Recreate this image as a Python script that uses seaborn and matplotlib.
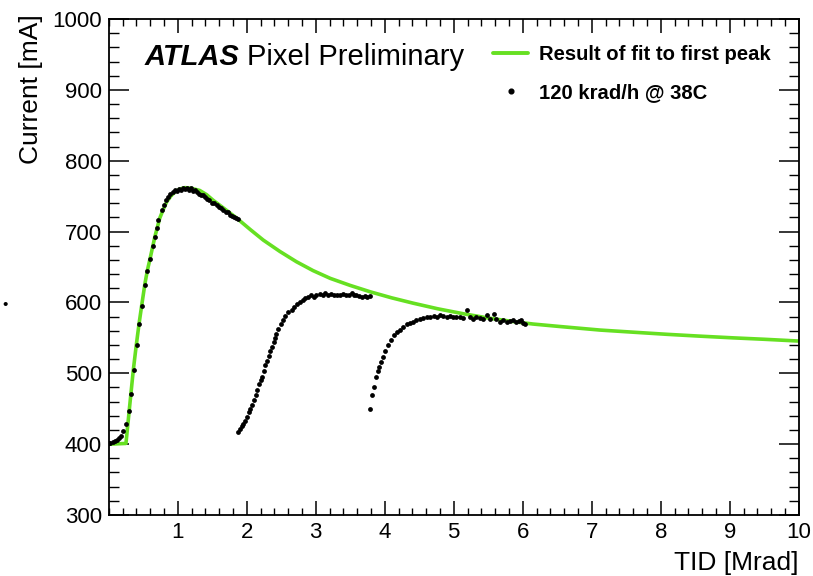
import numpy as np
import pandas as pd
import matplotlib
matplotlib.use("Agg")
import matplotlib.pyplot as plt
from matplotlib.lines import Line2D
from matplotlib.ticker import MultipleLocator, FixedLocator
import seaborn as sns

# ---- data ----
fit_x = [0.02, 0.25, 0.30, 0.357, 0.40, 0.44, 0.48, 0.526, 0.56, 0.60, 0.67, 0.74, 0.79,
         0.84, 0.90, 0.96, 1.03, 1.106, 1.20, 1.32, 1.42, 1.516, 1.68, 1.855, 2.05, 2.24,
         2.48, 2.72, 2.96, 3.21, 3.50, 3.79, 4.10, 4.41, 4.77, 5.14, 5.50, 5.86, 6.15,
         6.54, 7.12, 7.60, 8.09, 8.55, 9.05, 9.50, 10.0]
fit_y = [400, 401, 450, 505, 540, 570, 597, 627, 645, 662, 693, 719, 731,
         742, 750, 756, 760, 762, 761, 758, 752, 744, 732, 719, 703, 688,
         672, 657.5, 645, 634, 624, 615, 606.5, 599, 591, 584, 578, 573, 569.5,
         566, 561, 558, 555, 552.5, 550, 548, 545.5]

run1_x = [0.00, 0.02, 0.06, 0.09, 0.12, 0.15, 0.18, 0.21, 0.25, 0.30, 0.33, 0.37, 0.41,
          0.44, 0.48, 0.53, 0.56, 0.60, 0.64, 0.67, 0.70, 0.72, 0.77, 0.80, 0.83, 0.86,
          0.89, 0.93, 0.96, 0.99, 1.02, 1.05, 1.08, 1.11, 1.13, 1.16, 1.19, 1.22, 1.25,
          1.28, 1.31, 1.34, 1.37, 1.40, 1.43, 1.46, 1.50, 1.53, 1.57, 1.60, 1.63, 1.66,
          1.70, 1.73, 1.76, 1.79, 1.82, 1.85, 1.88]
run1_y = [401, 402, 403, 404, 406, 408, 412, 418, 429, 447, 471, 505, 540,
          570, 595, 625, 645, 661, 680, 693, 705, 716, 730, 737, 744, 749,
          753, 756, 758, 757, 760, 759, 761, 760, 762, 759, 761, 757, 758,
          756, 753, 752, 751, 749, 746, 745, 741, 740, 737, 734, 733, 730,
          728, 727, 724, 722, 721, 719, 718]

run2_x = [1.88, 1.90, 1.93, 1.95, 1.98, 2.00, 2.03, 2.05, 2.07, 2.10, 2.13, 2.15, 2.18,
          2.20, 2.22, 2.25, 2.27, 2.29, 2.32, 2.34, 2.36, 2.39, 2.41, 2.43, 2.46, 2.49,
          2.53, 2.56, 2.60, 2.65, 2.69, 2.73, 2.77, 2.81, 2.85, 2.89, 2.93, 2.97, 3.01,
          3.06, 3.10, 3.14, 3.18, 3.22, 3.27, 3.31, 3.35, 3.39, 3.44, 3.48, 3.52, 3.55,
          3.59, 3.63, 3.67, 3.71, 3.75, 3.79]
run2_y = [417, 421, 425, 429, 432, 438, 445, 450, 455, 463, 470, 477, 485,
          490, 495, 503, 511, 518, 524, 531, 537, 544, 550, 556, 562, 569,
          575, 581, 586, 590, 594, 598, 600, 603, 606, 607, 610, 608, 611,
          612, 610, 613, 611, 612, 610, 611, 610, 612, 610, 611, 613, 611,
          610, 609, 608, 609, 607, 609]

run3_x = [3.79, 3.81, 3.845, 3.88, 3.90, 3.92, 3.95, 3.98, 4.01, 4.05, 4.09, 4.14,
          4.18, 4.22, 4.27, 4.32, 4.36, 4.41, 4.46, 4.51, 4.56, 4.61, 4.66, 4.71,
          4.76, 4.80, 4.85, 4.90, 4.94, 4.99, 5.04, 5.09, 5.14, 5.19, 5.23, 5.28,
          5.33, 5.38, 5.43, 5.48, 5.53, 5.58, 5.62, 5.67, 5.72, 5.77, 5.81, 5.86,
          5.90, 5.94, 5.98, 6.01, 6.03]
run3_y = [449, 469, 481, 495, 503, 509, 516, 523, 532, 540, 547, 554,
          558, 561, 565, 569, 571, 573, 575, 577, 578, 580, 579, 581,
          580, 582, 581, 580, 581, 580, 579, 580, 578, 590, 579, 577,
          579, 578, 577, 582, 576, 584, 576, 573, 575, 572, 574, 575,
          572, 574, 575, 571, 569]

x_ticks = [1, 2, 3, 4, 5, 6, 7, 8, 9, 10]
y_ticks = [300, 400, 500, 600, 700, 800, 900, 1000]

# ---- styling ----
sns.set_theme(style="ticks")
plt.rcParams["font.family"] = ["Liberation Sans", "DejaVu Sans"]
plt.rcParams["text.color"] = "black"
plt.rcParams["axes.labelcolor"] = "black"
plt.rcParams["xtick.color"] = "black"
plt.rcParams["ytick.color"] = "black"
GREEN = "#66e022"

W, H = 813, 576
fig = plt.figure(figsize=(W / 100, H / 100), dpi=100)
fig.patch.set_facecolor("white")
L, R, T, B = 108.7, 798.7, 19, 515
ax = fig.add_axes([L / W, (H - B) / H, (R - L) / W, (B - T) / H])
ax.set_facecolor("white")

fit_df = pd.DataFrame({"x": fit_x, "y": fit_y})
data_df = pd.concat([
    pd.DataFrame({"x": run1_x, "y": run1_y, "run": "1"}),
    pd.DataFrame({"x": run2_x, "y": run2_y, "run": "2"}),
    pd.DataFrame({"x": run3_x, "y": run3_y, "run": "3"}),
])

sns.lineplot(data=fit_df, x="x", y="y", ax=ax, color=GREEN, lw=2.6,
             sort=False, estimator=None, zorder=2, legend=False)
sns.scatterplot(data=data_df, x="x", y="y", ax=ax, color="black", s=12,
                linewidth=0, zorder=3, legend=False)

ax.set_xlim(0, 10)
ax.set_ylim(300, 1000)
ax.xaxis.set_major_locator(FixedLocator(x_ticks))
ax.xaxis.set_minor_locator(MultipleLocator(0.2))
ax.yaxis.set_major_locator(FixedLocator(y_ticks))
ax.yaxis.set_minor_locator(MultipleLocator(20))

for s in ax.spines.values():
    s.set_visible(True)
    s.set_linewidth(1.3)
    s.set_color("black")

ax.tick_params(axis="x", which="major", direction="in", length=10, width=1.1,
               top=True, bottom=True, labelsize=16, pad=5, colors="black")
ax.tick_params(axis="x", which="minor", direction="in", length=5, width=1.0,
               top=True, bottom=True, colors="black")
ax.tick_params(axis="y", which="major", direction="in", length=14.5, width=1.1,
               left=True, right=True, labelsize=16, pad=5, colors="black")
ax.tick_params(axis="y", which="minor", direction="in", length=7.5, width=1.0,
               left=True, right=True, colors="black")

ax.set_xlabel("")
ax.set_ylabel("")
fig.text(R / W, 1 - 563 / H, "TID [Mrad]", ha="right", va="center", fontsize=19)
fig.text(31 / W, 1 - 14 / H, "Current [mA]", ha="center", va="top",
         rotation=90, fontsize=19)

# ATLAS label
t1 = fig.text(145 / W, 1 - 57 / H, "ATLAS", fontsize=21, fontweight="bold",
              fontstyle="italic", va="center", ha="left")
fig.canvas.draw()
bb = t1.get_window_extent()
fig.text((bb.x1 + 7) / W, 1 - 57 / H, "Pixel Preliminary", fontsize=21,
         va="center", ha="left")

# legend
handles = [Line2D([], [], color=GREEN, lw=2.8),
           Line2D([], [], color="black", marker="o", ms=3.4, lw=0)]
leg = ax.legend(handles, ["Result of fit to first peak", "120 krad/h @ 38C"],
                loc="upper left", bbox_to_anchor=(493 / W, 1 - 45 / H),
                bbox_transform=fig.transFigure, frameon=False,
                prop={"size": 14.6, "weight": "bold"}, handlelength=1.75,
                handletextpad=0.5, labelspacing=0.93, borderaxespad=0,
                borderpad=0)

# stray dot at the left edge of the reference
fig.text(5 / W, 1 - 305 / H, "\u2022", fontsize=11, ha="center", va="center")

fig.savefig("out.png", dpi=100, facecolor="white")
